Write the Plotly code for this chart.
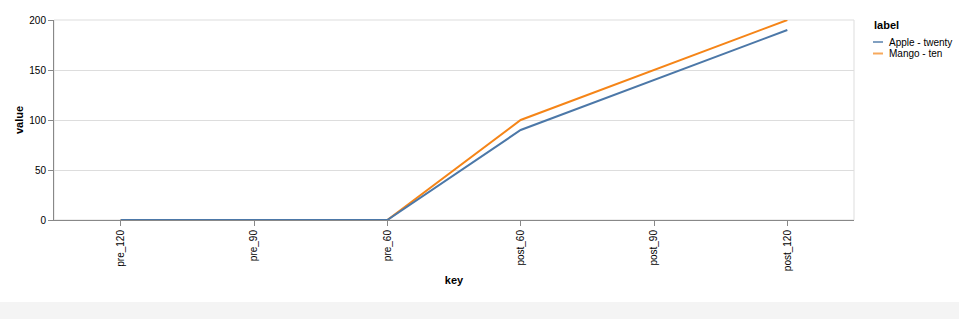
import plotly.graph_objects as go

keys = ["pre_120", "pre_90", "pre_60", "post_60", "post_90", "post_120"]
apple_twenty = [0, 0, 0, 90, 140, 190]
mango_ten = [0, 0, 0, 100, 150, 200]
y_ticks = [0, 50, 100, 150, 200]
series_names = ["Apple - twenty", "Mango - ten"]
series_colors = ["#4c78a8", "#f58518"]
legend_title = "label"

FONT = "Liberation Sans, Arial, sans-serif"
PW, PH = 959, 319
L, T, W, H = 54, 20, 800, 200


def px_x(x):
    return (x - L) / W


def px_y(y):
    return (T + H - y) / H


fig = go.Figure()
# draw Mango first so Apple sits on top in the flat part
fig.add_trace(go.Scatter(x=keys, y=mango_ten, mode="lines", name=series_names[1],
                         line=dict(color=series_colors[1], width=2)))
fig.add_trace(go.Scatter(x=keys, y=apple_twenty, mode="lines", name=series_names[0],
                         line=dict(color=series_colors[0], width=2)))

shapes = [
    dict(type="rect", xref="paper", yref="paper", x0=0, x1=1, y0=0, y1=1,
         line=dict(color="#ddd", width=1), layer="below"),
    dict(type="rect", xref="paper", yref="paper",
         x0=px_x(-20), x1=px_x(PW + 20), y0=px_y(302), y1=px_y(PH + 10),
         fillcolor="#f4f4f4", line=dict(width=0), layer="below"),
]
annotations = [
    dict(text="<b>%s</b>" % legend_title, xref="paper", yref="paper",
         x=px_x(872), y=px_y(25), xanchor="left", yanchor="middle",
         showarrow=False, font=dict(size=11, family=FONT, color="#000")),
]
for i, (name, col) in enumerate(zip(series_names, series_colors)):
    yc = 42 + i * 11.5
    shapes.append(dict(type="line", xref="paper", yref="paper",
                       x0=px_x(873), x1=px_x(883), y0=px_y(yc), y1=px_y(yc),
                       line=dict(color=col, width=2), opacity=0.7))
    annotations.append(dict(text=name, xref="paper", yref="paper",
                            x=px_x(887), y=px_y(yc), xanchor="left", yanchor="middle",
                            showarrow=False, font=dict(size=10, family=FONT, color="#000")))

fig.update_layout(
    width=PW, height=PH,
    margin=dict(l=L, r=PW - L - W, t=T, b=PH - T - H, pad=0),
    paper_bgcolor="white", plot_bgcolor="white",
    font=dict(family=FONT, size=10, color="#000"),
    showlegend=False,
    xaxis=dict(type="category", categoryorder="array", categoryarray=keys,
               range=[-0.5, 5.5], showgrid=False, zeroline=False,
               showline=True, linecolor="#888", linewidth=1,
               ticks="outside", ticklen=5, tickcolor="#888", tickangle=-90,
               tickfont=dict(size=10, family=FONT),
               title=dict(text="<b>key</b>", font=dict(size=11, family=FONT), standoff=6)),
    yaxis=dict(range=[0, 200], tickvals=y_ticks, showgrid=True, gridcolor="#ddd",
               zeroline=False, showline=True, linecolor="#888", linewidth=1,
               ticks="outside", ticklen=5, tickcolor="#888",
               tickfont=dict(size=10, family=FONT),
               title=dict(text="<b>value</b>", font=dict(size=11, family=FONT), standoff=3)),
    shapes=shapes,
    annotations=annotations,
)

fig.write_html("out.html")
